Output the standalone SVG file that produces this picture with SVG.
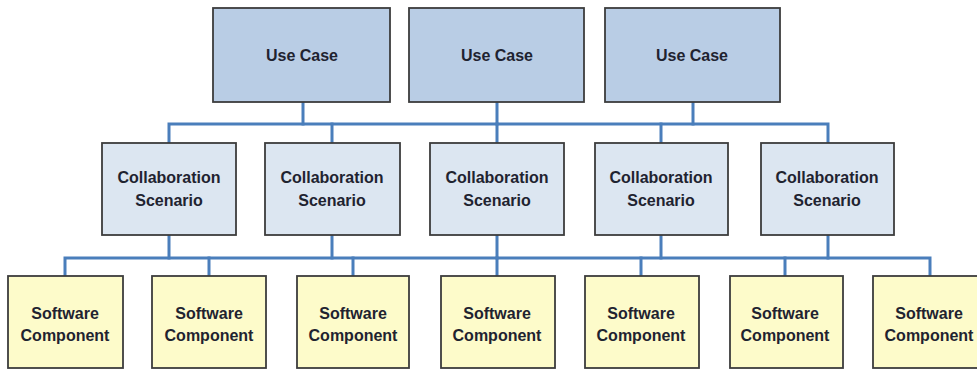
<svg xmlns="http://www.w3.org/2000/svg" width="977" height="369" viewBox="0 0 977 369">
  <style>
    .box { stroke: #3c3c3c; stroke-width: 1.8; }
    .uc { fill: #b9cde5; }
    .cs { fill: #dce6f1; }
    .sw { fill: #fdfbca; }
    .lbl { font-family: "Liberation Sans", Arial, sans-serif; font-weight: bold; font-size: 16px; fill: #1f2330; text-anchor: middle; }
    .wire { fill: none; stroke: #4a7ebb; stroke-width: 3; stroke-linejoin: miter; stroke-linecap: square; }
  </style>
  <rect width="977" height="369" fill="#ffffff"/>

  <!-- connectors -->
  <g id="connectors" class="wire">
    <!-- use cases down to the scenario bus -->
    <path d="M303 102 V124 M497 102 V124 M693 102 V124"/>
    <path d="M169 143 V124 H828 V143"/>
    <path d="M332 124 V143 M497 124 V143 M661 124 V143"/>
    <!-- scenarios down to the component bus -->
    <path d="M169 235 V258 M332 235 V258 M497 235 V258 M661 235 V258 M828 235 V258"/>
    <path d="M65 276 V258 H930 V276"/>
    <path d="M209 258 V276 M353 258 V276 M497 258 V276 M641 258 V276 M785 258 V276"/>
  </g>

  <!-- use cases -->
  <g id="uc1"><rect class="box uc" x="213" y="8" width="177" height="94"/><text class="lbl" x="302" y="61">Use Case</text></g>
  <g id="uc2"><rect class="box uc" x="409" y="8" width="175" height="94"/><text class="lbl" x="497" y="61">Use Case</text></g>
  <g id="uc3"><rect class="box uc" x="605" y="8" width="175" height="94"/><text class="lbl" x="692" y="61">Use Case</text></g>

  <!-- collaboration scenarios -->
  <g id="cs1"><rect class="box cs" x="102" y="143" width="134" height="92"/><text class="lbl" x="169" y="183">Collaboration</text><text class="lbl" x="169" y="206">Scenario</text></g>
  <g id="cs2"><rect class="box cs" x="265" y="143" width="135" height="92"/><text class="lbl" x="332" y="183">Collaboration</text><text class="lbl" x="332" y="206">Scenario</text></g>
  <g id="cs3"><rect class="box cs" x="430" y="143" width="134" height="92"/><text class="lbl" x="497" y="183">Collaboration</text><text class="lbl" x="497" y="206">Scenario</text></g>
  <g id="cs4"><rect class="box cs" x="595" y="143" width="133" height="92"/><text class="lbl" x="661" y="183">Collaboration</text><text class="lbl" x="661" y="206">Scenario</text></g>
  <g id="cs5"><rect class="box cs" x="761" y="143" width="133" height="92"/><text class="lbl" x="827" y="183">Collaboration</text><text class="lbl" x="827" y="206">Scenario</text></g>

  <!-- software components -->
  <g id="sw1"><rect class="box sw" x="8" y="276" width="115" height="92"/><text class="lbl" x="65" y="319">Software</text><text class="lbl" x="65" y="341">Component</text></g>
  <g id="sw2"><rect class="box sw" x="152" y="276" width="114" height="92"/><text class="lbl" x="209" y="319">Software</text><text class="lbl" x="209" y="341">Component</text></g>
  <g id="sw3"><rect class="box sw" x="297" y="276" width="112" height="92"/><text class="lbl" x="353" y="319">Software</text><text class="lbl" x="353" y="341">Component</text></g>
  <g id="sw4"><rect class="box sw" x="441" y="276" width="114" height="92"/><text class="lbl" x="497" y="319">Software</text><text class="lbl" x="497" y="341">Component</text></g>
  <g id="sw5"><rect class="box sw" x="585" y="276" width="114" height="92"/><text class="lbl" x="641" y="319">Software</text><text class="lbl" x="641" y="341">Component</text></g>
  <g id="sw6"><rect class="box sw" x="730" y="276" width="113" height="92"/><text class="lbl" x="785" y="319">Software</text><text class="lbl" x="785" y="341">Component</text></g>
  <g id="sw7"><rect class="box sw" x="873" y="276" width="114" height="92"/><text class="lbl" x="929" y="319">Software</text><text class="lbl" x="929" y="341">Component</text></g>
</svg>
